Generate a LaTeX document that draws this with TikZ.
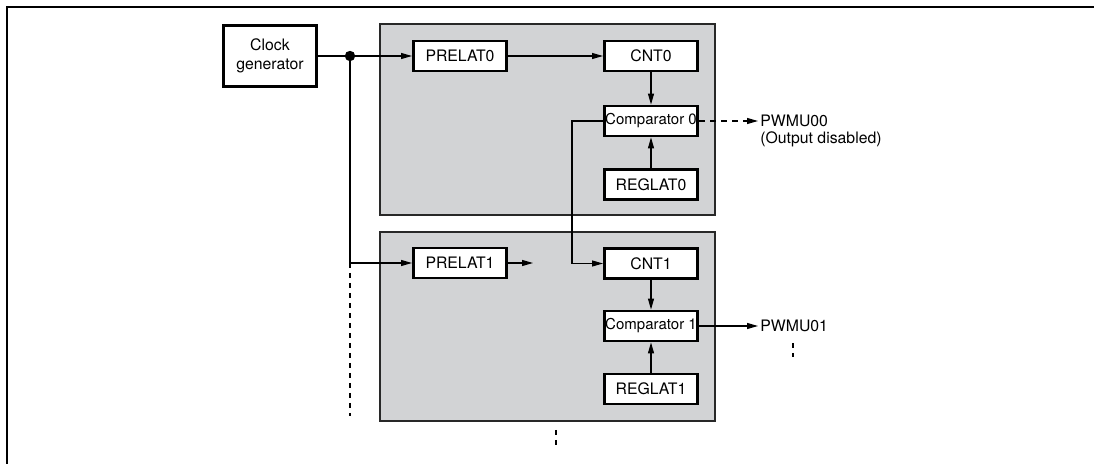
\documentclass[tikz,border=0pt]{standalone}
\usepackage{fontspec}
\setmainfont{TeX Gyre Heros}
\usetikzlibrary{arrows.meta}
\definecolor{panelgray}{RGB}{210,211,213}
\definecolor{paneledge}{RGB}{40,40,40}
\tikzset{
  blk/.style={draw,line width=1.4pt,fill=white,minimum width=46.6pt,minimum height=15pt,inner sep=0pt},
  cmpblk/.style={blk,font=\fontsize{7.5pt}{9pt}\selectfont},
  panel/.style={draw=paneledge,fill=panelgray,line width=1.15pt},
  wire/.style={line width=.55pt},
  sig/.style={wire,-{Triangle[length=5.5pt,width=3pt]}},
  cont/.style={wire,dash pattern=on 2.5pt off 2.5pt},
  outlbl/.style={anchor=west,inner sep=1pt}
}
\begin{document}
\begin{tikzpicture}[x=.5pt,y=-.5pt,font=\fontsize{7.9pt}{9.3pt}\selectfont]
\useasboundingbox (0,0) rectangle (1094,464);
% frame
\draw[line width=1pt] (7,464) -- (7,7) -- (1094,7);
% channel panels
\draw[panel] (380,24) rectangle (715,215);
\draw[panel] (380,232) rectangle (715,421);
% blocks
\node[blk,minimum height=30.6pt,align=center] (clk) at (270,56) {Clock\\generator};
\node[blk] (prelat0) at (460,56) {PRELAT0};
\node[blk] (cnt0) at (651,56) {CNT0};
\node[cmpblk] (cmp0) at (651,121) {Comparator 0};
\node[blk] (reglat0) at (651,184.5) {REGLAT0};
\node[blk] (prelat1) at (460,263) {PRELAT1};
\node[blk] (cnt1) at (651,263.5) {CNT1};
\node[cmpblk] (cmp1) at (651,326) {Comparator 1};
\node[blk] (reglat1) at (651,389) {REGLAT1};
\node[outlbl] (pwm0) at (758,121) {PWMU00};
\node[anchor=north west,inner sep=1pt] (pwm0note) at (pwm0.south west) {(Output disabled)};
\node[outlbl] (pwm1) at (758,326) {PWMU01};
\coordinate (split) at (350,56);
\coordinate (clkmore) at (350,416);
\coordinate (lead1) at (533,263);
% clock distribution
\draw[sig] (clk) -- (prelat0);
\fill (split) circle (2.6pt);
\draw[sig] (split) |- (prelat1.west);
\draw[cont] (split |- prelat1.west) -- (clkmore);
% channel 0
\draw[sig] (prelat0) -- (cnt0);
\draw[sig] (cnt0) -- (cmp0);
\draw[sig] (reglat0) -- (cmp0);
\draw[sig,dash pattern=on 3pt off 2.5pt] (cmp0) -- (pwm0);
\draw[sig] (cmp0.west) -- ++(-31,0) |- (cnt1.west);
% channel 1
\draw[sig] (prelat1) -- (lead1);
\draw[sig] (cnt1) -- (cmp1);
\draw[sig] (reglat1) -- (cmp1);
\draw[sig] (cmp1) -- (pwm1);
% more channels
\draw[cont] (793,343) -- (793,357);
\draw[cont] (556,430) -- (556,445);
\end{tikzpicture}
\end{document}
